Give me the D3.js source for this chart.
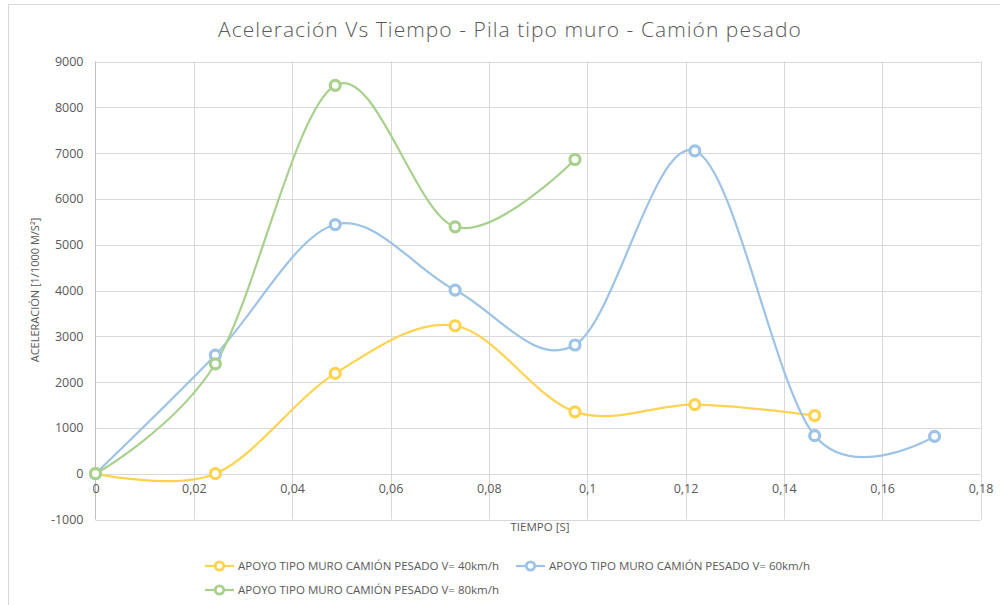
<!DOCTYPE html>
<html>
<head>
<meta charset="utf-8">
<script src="https://cdn.jsdelivr.net/npm/d3@7"></script>
<style>
  html, body { margin: 0; padding: 0; background: #fff; }
  svg { display: block; }
  text { font-family: "Open Sans", "Liberation Sans", sans-serif; }
</style>
</head>
<body>
<svg id="chart" width="1000" height="605"></svg>
<script>
// Time samples (s) and acceleration series (1/1000 m/s²)
const tiempo = [0, 0.02438, 0.04876, 0.07314, 0.09752, 0.1219, 0.14628, 0.17066];
const v40 = [0, 0, 2190, 3230, 1350, 1510, 1270];
const v60 = [0, 2590, 5440, 4010, 2810, 7050, 830, 815];
const v80 = [0, 2400, 8480, 5390, 6860];
const seriesNames = [
  "APOYO TIPO MURO CAMIÓN PESADO V= 40km/h",
  "APOYO TIPO MURO CAMIÓN PESADO V= 60km/h",
  "APOYO TIPO MURO CAMIÓN PESADO V= 80km/h"
];
const seriesColors = ["#FFD34F", "#9DC3E6", "#A9D18E"];
const xTicks = [0, 0.02, 0.04, 0.06, 0.08, 0.1, 0.12, 0.14, 0.16, 0.18];
const yTicks = [-1000, 0, 1000, 2000, 3000, 4000, 5000, 6000, 7000, 8000, 9000];

const svg = d3.select("#chart");
const fmtX = d => String(d).replace(".", ",");

const x = d3.scaleLinear().domain([0, 0.18]).range([95.5, 980.5]);
const y = d3.scaleLinear().domain([-1000, 9000]).range([519.5, 61.5]);

// chart frame
svg.append("rect")
  .attr("x", 8.5).attr("y", 4.5).attr("width", 1000).attr("height", 620)
  .attr("fill", "none").attr("stroke", "#d9d9d9").attr("stroke-width", 1);

// title
svg.append("text")
  .attr("x", 510).attr("y", 37)
  .attr("text-anchor", "middle")
  .attr("font-size", 21).attr("font-weight", 300)
  .attr("letter-spacing", 1.05)
  .attr("fill", "#595959")
  .text("Aceleración Vs Tiempo - Pila tipo muro - Camión pesado");

// gridlines
const grid = svg.append("g");
grid.selectAll("line.h").data(yTicks).join("line")
  .attr("x1", x(0)).attr("x2", x(0.18))
  .attr("y1", d => Math.round(y(d)) + 0.5).attr("y2", d => Math.round(y(d)) + 0.5)
  .attr("stroke", "#d9d9d9").attr("stroke-width", 1);
grid.selectAll("line.v").data(xTicks.slice(1)).join("line")
  .attr("x1", d => Math.round(x(d)) + 0.5).attr("x2", d => Math.round(x(d)) + 0.5)
  .attr("y1", y(9000)).attr("y2", y(-1000))
  .attr("stroke", "#d9d9d9").attr("stroke-width", 1);

// vertical axis line
svg.append("line")
  .attr("x1", x(0)).attr("x2", x(0))
  .attr("y1", y(9000)).attr("y2", y(-1000))
  .attr("stroke", "#bfbfbf").attr("stroke-width", 1);

// y tick labels via axis
const yAxis = svg.append("g")
  .attr("transform", `translate(${x(0)},0)`)
  .call(d3.axisLeft(y).tickValues(yTicks).tickSize(0).tickPadding(12).tickFormat(d => String(d)));
yAxis.select(".domain").remove();
yAxis.selectAll("text").attr("font-size", 12.5).attr("fill", "#595959")
  .attr("font-family", "'Open Sans', sans-serif");

// x tick labels placed under the zero line
const xAxis = svg.append("g")
  .attr("transform", `translate(0,${y(0)})`)
  .call(d3.axisBottom(x).tickValues(xTicks).tickSize(0).tickPadding(10).tickFormat(fmtX));
xAxis.select(".domain").remove();
xAxis.selectAll("text").attr("font-size", 12.5).attr("fill", "#595959")
  .attr("font-family", "'Open Sans', sans-serif");

// axis titles
svg.append("text")
  .attr("x", 540).attr("y", 531).attr("text-anchor", "middle")
  .attr("font-size", 11.5).attr("fill", "#595959")
  .text("TIEMPO [S]");
svg.append("text")
  .attr("transform", "translate(39,290) rotate(-90)")
  .attr("text-anchor", "middle")
  .attr("font-size", 11).attr("fill", "#595959")
  .text("ACELERACIÓN [1/1000 M/S²]");

// series
const allSeries = [v40, v60, v80];
const line = d3.line()
  .x((d, i) => x(tiempo[i]))
  .y(d => y(d))
  .curve(d3.curveCardinal.tension(0));

const plot = svg.append("g");
allSeries.forEach((vals, s) => {
  plot.append("path")
    .datum(vals)
    .attr("d", line)
    .attr("fill", "none")
    .attr("stroke", seriesColors[s])
    .attr("stroke-width", 2.2);
});
allSeries.forEach((vals, s) => {
  plot.selectAll(null).data(vals).join("circle")
    .attr("cx", (d, i) => x(tiempo[i]))
    .attr("cy", d => y(d))
    .attr("r", 5)
    .attr("fill", "#fff")
    .attr("stroke", seriesColors[s])
    .attr("stroke-width", 3.2);
});

// legend
const legendItems = [
  { x: 205, y: 566 },
  { x: 516, y: 566 },
  { x: 205, y: 590 }
];
legendItems.forEach((p, s) => {
  const g = svg.append("g").attr("transform", `translate(${p.x},${p.y})`);
  g.append("line").attr("x1", 0).attr("x2", 29).attr("y1", 0).attr("y2", 0)
    .attr("stroke", seriesColors[s]).attr("stroke-width", 2.2);
  g.append("circle").attr("cx", 14.5).attr("cy", 0).attr("r", 4.2)
    .attr("fill", "#fff").attr("stroke", seriesColors[s]).attr("stroke-width", 2.8);
  g.append("text").attr("x", 33).attr("y", 4.2)
    .attr("font-size", 11.5).attr("fill", "#595959")
    .text(seriesNames[s]);
});
</script>
</body>
</html>
